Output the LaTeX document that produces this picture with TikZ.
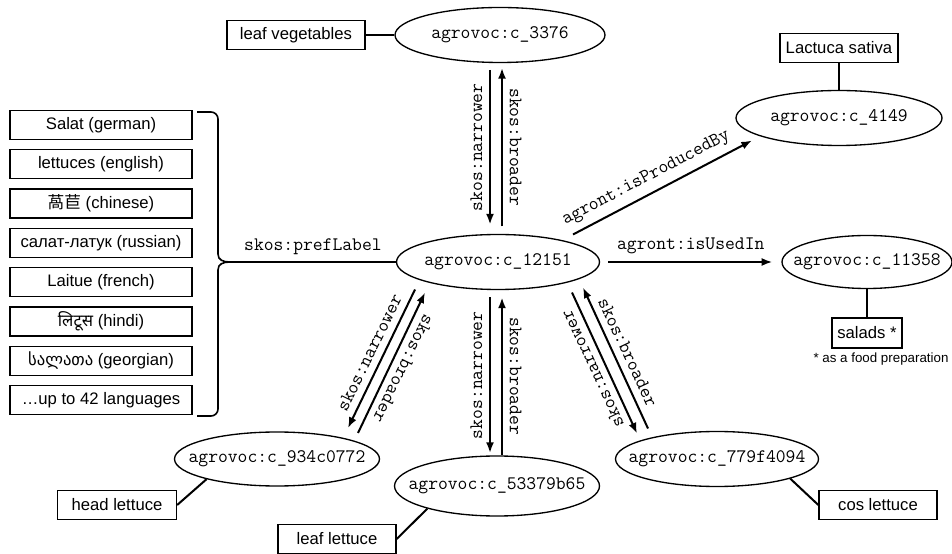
\documentclass[tikz,border=0pt]{standalone}
\usepackage{fontspec}
\setmainfont{Liberation Sans}
\newfontfamily\zhfont{Noto Sans CJK SC}
\newfontfamily\hifont[Script=Devanagari]{Noto Sans}
\newfontfamily\kafont{DejaVu Sans}
\usetikzlibrary{shapes.geometric,arrows.meta}
\newdimen\pxl \pxl=0.75pt

\begin{document}
\begin{tikzpicture}[x=0.75pt, y=0.75pt,
  concept/.style={ellipse, draw, line width=1pt, inner xsep=-40pt, inner ysep=0pt,
                  font=\fontsize{14.3}{16}\ttfamily},
  term/.style={rectangle, draw, line width=1pt, inner sep=0pt, minimum height=29\pxl,
               font=\fontsize{12.5}{15}\selectfont},
  langbox/.style={term, minimum width=182\pxl},
  rel/.style={line width=1.5pt},
  relarrow/.style={rel, -{Latex[length=8pt,width=6pt]}},
  rellabel/.style={inner sep=5pt, font=\fontsize{14.3}{16}\ttfamily}]
  \useasboundingbox (0,0) rectangle (952,553);

  % --- concepts (ellipses) ---
  \node[concept, minimum width=203\pxl, minimum height=55\pxl] (c12151) at (498,291) {agrovoc:c\_12151};
  \node[concept, minimum width=210\pxl, minimum height=55\pxl] (c3376) at (500,518) {agrovoc:c\_3376};
  \node[concept, minimum width=206\pxl, minimum height=55\pxl] (c4149) at (839,435) {agrovoc:c\_4149};
  \node[concept, minimum width=170\pxl, minimum height=53\pxl] (c11358) at (867,291) {agrovoc:c\_11358};
  \node[concept, minimum width=205\pxl, minimum height=54\pxl] (c934c0772) at (277,94) {agrovoc:c\_934c0772};
  \node[concept, minimum width=205\pxl, minimum height=60\pxl] (c53379b65) at (497,67) {agrovoc:c\_53379b65};
  \node[concept, minimum width=203\pxl, minimum height=55\pxl] (c779f4094) at (717,94) {agrovoc:c\_779f4094};

  % --- labels in boxes ---
  \node[term, minimum width=138\pxl] (leafveg) at (296,518) {leaf vegetables};
  \node[term, minimum width=118\pxl] (lactuca) at (839,505) {Lactuca sativa};
  \node[term, minimum width=70\pxl, minimum height=30\pxl] (salads) at (867,220) {salads *};
  \node[inner sep=0pt, font=\fontsize{10}{12}\selectfont] (foodnote) at (881,194) {* as a food preparation};
  \node[term, minimum width=119\pxl] (headlet) at (117,48) {head lettuce};
  \node[term, minimum width=118\pxl] (leaflet) at (337,14) {leaf lettuce};
  \node[term, minimum width=118\pxl] (coslet) at (878,48) {cos lettuce};

  % --- preferred labels, one per language ---
  \foreach \txt [count=\i] in {Salat (german), lettuces (english), {{\zhfont 萵苣} (chinese)},
      салат-латук (russian), Laitue (french), {{\hifont लिटूस} (hindi)},
      {{\kafont სალათა} (georgian)}, …up to 42 languages}
    \node[langbox] (lang\i) at (101,{428-39.3*(\i-1)}) {\txt};

  % brace round the language boxes
  \draw[line width=1.2pt] (197,441) -- (211,441) to[out=0,in=90] (218,434) -- (218,299)
    .. controls (218,293) and (223,291) .. (230,291)
    .. controls (223,291) and (218,289) .. (218,283) -- (218,144)
    to[out=-90,in=0] (211,137) -- (197,137);
  \coordinate (bracetip) at (230,291);

  % --- plain links ---
  \draw[rel] (bracetip) -- (c12151.west) node[midway, above, rellabel] {skos:prefLabel};
  \draw[rel] (leafveg.east) -- (c3376.west);
  \draw[rel] (lactuca.south) -- (c4149.north);
  \draw[rel] (c11358.south) -- (salads.north);
  \draw[rel] (headlet.east) -- (c934c0772.196);
  \draw[rel] (leaflet.east) -- (c53379b65.198);
  \draw[rel] (coslet.west) -- (c779f4094.345);

  % --- agront relations ---
  \draw[relarrow, shorten <=8\pxl, shorten >=9\pxl] (c12151.east) -- (c11358.west)
    node[midway, above, rellabel] {agront:isUsedIn};
  \draw[relarrow] ([shift={(75,27.5)}]c12151.center) -- ([shift={(-87,-22.5)}]c4149.center)
    node[pos=0.45, sloped, above, rellabel] {agront:isProducedBy};

  % --- skos: up to c_3376 ---
  \draw[relarrow] ([shift={(-10,-35)}]c3376.center) -- ([shift={(-8,37.5)}]c12151.center)
    node[midway, rotate=90, anchor=south, rellabel] {skos:narrower};
  \draw[relarrow] ([shift={(4,35.5)}]c12151.center) -- ([shift={(2,-33)}]c3376.center)
    node[midway, rotate=-90, anchor=south, rellabel] {skos:broader};

  % --- skos: down to c_53379b65 ---
  \draw[relarrow] ([shift={(-8,-35.5)}]c12151.center) -- ([shift={(-7,33)}]c53379b65.center)
    node[midway, rotate=90, anchor=south, rellabel] {skos:narrower};
  \draw[relarrow] ([shift={(5,31)}]c53379b65.center) -- ([shift={(4,-35.5)}]c12151.center)
    node[midway, rotate=-90, anchor=south, rellabel] {skos:broader};

  % --- skos: down-left to c_934c0772 ---
  \draw[relarrow] ([shift={(-83,-27.5)}]c12151.center) -- ([shift={(71,31)}]c934c0772.center)
    node[midway, rotate=64, anchor=south, rellabel] {skos:narrower};
  \draw[relarrow] ([shift={(81,26)}]c934c0772.center) -- ([shift={(-73,-30.5)}]c12151.center)
    node[midway, rotate=244, anchor=south, rellabel] {skos:broader};

  % --- skos: down-right to c_779f4094 ---
  \draw[relarrow] ([shift={(74,-30.5)}]c12151.center) -- ([shift={(-80,25.5)}]c779f4094.center)
    node[midway, rotate=115, anchor=south, rellabel] {skos:narrower};
  \draw[relarrow] ([shift={(-69,30.5)}]c779f4094.center) -- ([shift={(85,-25.5)}]c12151.center)
    node[midway, rotate=-65, anchor=south, rellabel] {skos:broader};
\end{tikzpicture}
\end{document}
